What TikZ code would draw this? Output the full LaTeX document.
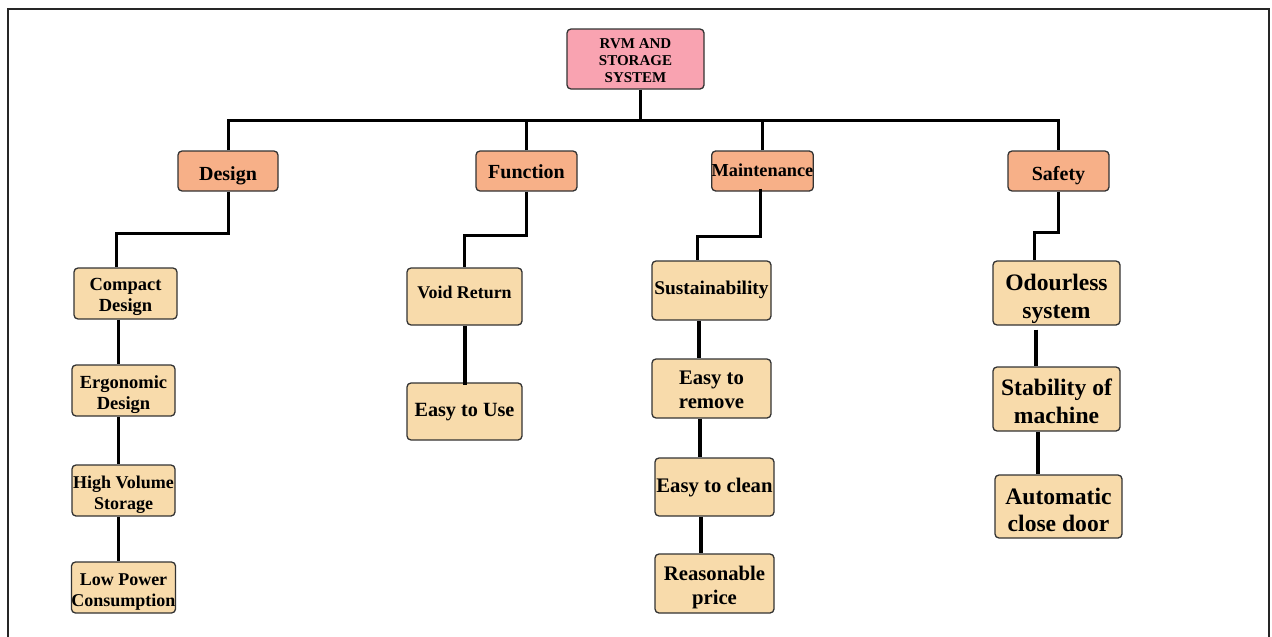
\documentclass[tikz,border=0pt]{standalone}
\usepackage{fontspec}
\setmainfont{Liberation Serif}
\definecolor{rootfill}{RGB}{249,163,177}
\definecolor{catfill}{RGB}{247,176,136}
\definecolor{itemfill}{RGB}{248,219,171}
\newcommand{\fs}[2]{\fontsize{#1}{#2}\selectfont\bfseries}
\newcommand{\dn}[2]{\raisebox{-#1}[\height][\depth]{\begin{tabular}{@{}c@{}}#2\end{tabular}}}
\tikzset{
  box/.style={draw=black!80, line width=1.3pt, rounded corners=4pt, inner sep=0pt, anchor=center},
  rootbox/.style={box, fill=rootfill, minimum width=137pt, minimum height=60pt},
  catbox/.style={box, fill=catfill, minimum width=101pt, minimum height=40pt},
  itembox/.style={box, fill=itemfill},
  link/.style={line width=3pt},
  thicklink/.style={line width=4.8pt},
  frame/.style={line width=2pt, black!85}
}
\begin{document}
\begin{tikzpicture}[x=1pt,y=-1pt]
\useasboundingbox (0,0) rectangle (1272,637);
% frame (open at bottom)
\draw[frame] (8,637) -- (8,8.5) -- (1269,8.5) -- (1269,637);

% root
\node[rootbox, font=\fs{15}{17}] (root) at (635.5,59) {\dn{3pt}{RVM AND\\STORAGE\\SYSTEM}};

% categories
\node[catbox, minimum width=100pt, font=\fs{20}{24}] (design) at (228,171) {\dn{4.5pt}{Design}};
\node[catbox, font=\fs{20}{24}] (function) at (526.5,171) {\dn{3pt}{Function}};
\node[catbox, font=\fs{18.3}{22}] (maint) at (762.5,171) {\dn{1pt}{Maintenance}};
\node[catbox, font=\fs{20}{24}] (safety) at (1058.5,171) {\dn{4.5pt}{Safety}};

% design items
\node[itembox, minimum width=103pt, minimum height=51pt, font=\fs{18.5}{21}] (compact) at (125.5,293.5) {\dn{3.5pt}{Compact\\Design}};
\node[itembox, minimum width=103pt, minimum height=51pt, font=\fs{18.5}{21}] (ergo) at (123.5,390.5) {\dn{4.5pt}{Ergonomic\\Design}};
\node[itembox, minimum width=103pt, minimum height=51pt, font=\fs{18}{21}] (hvs) at (123.5,490.5) {\dn{4pt}{High Volume\\Storage}};
\node[itembox, minimum width=103pt, minimum height=51pt, font=\fs{18}{21}] (lpc) at (123.5,587.5) {\dn{4pt}{Low Power\\Consumption}};

% function items
\node[itembox, minimum width=115pt, minimum height=57pt, font=\fs{17.9}{21}] (void) at (464.5,296.5) {\dn{-2.5pt}{Void Return}};
\node[itembox, minimum width=115pt, minimum height=57pt, font=\fs{20.2}{24}] (easyuse) at (464.5,411.5) {\dn{0pt}{Easy to Use}};

% maintenance items
\node[itembox, minimum width=119pt, minimum height=59pt, font=\fs{19.4}{23}] (sust) at (711.5,290.5) {\dn{-1pt}{Sustainability}};
\node[itembox, minimum width=119pt, minimum height=59pt, font=\fs{20.7}{24}] (remove) at (711.5,388.5) {\dn{3.5pt}{Easy to\\remove}};
\node[itembox, minimum width=119pt, minimum height=58pt, font=\fs{20.7}{24}] (clean) at (714.5,487) {\dn{1pt}{Easy to clean}};
\node[itembox, minimum width=119pt, minimum height=59pt, font=\fs{20.7}{24}] (price) at (714.5,583.5) {\dn{4pt}{Reasonable\\price}};

% safety items
\node[itembox, minimum width=127pt, minimum height=64pt, font=\fs{23.6}{28}] (odour) at (1056.5,293) {\dn{5.5pt}{Odourless\\system}};
\node[itembox, minimum width=127pt, minimum height=64pt, font=\fs{23.6}{28}] (stab) at (1056.5,399) {\dn{5pt}{Stability of\\machine}};
\node[itembox, minimum width=127pt, minimum height=63pt, font=\fs{23.6}{27}] (auto) at (1058.5,506.5) {\dn{6pt}{Automatic\\close door}};

% bus
\coordinate (bus) at (640,120);
\draw[link] ([xshift=4.5pt]root.south) -- (bus);
\draw[link] (design.north) |- (bus) -| (safety.north);
\draw[link] (function.north) -- (function.north |- bus);
\draw[link] (maint.north) -- (maint.north |- bus);

% branches
\coordinate (dB) at (116,233);
\coordinate (fB) at (464.5,235);
\coordinate (mB) at (697,236);
\coordinate (sB) at (1034,232);
\draw[link] (design.south) |- (dB) -- (dB |- compact.north);
\draw[link] (function.south) |- (fB) -- (fB |- void.north);
\draw[link] ([xshift=-2.5pt,yshift=3pt]maint.south) |- (mB) -- (mB |- sust.north);
\draw[link] (safety.south) |- (sB) -- (sB |- odour.north);

% design chain
\draw[link] ([xshift=-7pt]compact.south) -- ([xshift=-5pt]ergo.north);
\draw[link] ([xshift=-5.5pt]ergo.south) -- ([xshift=-5.5pt]hvs.north);
\draw[link] ([xshift=-5pt]hvs.south) -- ([xshift=-5pt]lpc.north);

% function chain
\draw[thicklink] ([xshift=0.5pt]void.south) -- ([xshift=0.5pt,yshift=-3pt]easyuse.north);

% maintenance chain
\draw[thicklink] ([xshift=-12.5pt]sust.south) -- ([xshift=-12.5pt]remove.north);
\draw[thicklink] ([xshift=-11.5pt]remove.south) -- ([xshift=-14.5pt]clean.north);
\draw[thicklink] ([xshift=-13.5pt]clean.south) -- ([xshift=-13.5pt]price.north);

% safety chain
\draw[thicklink] ([xshift=-20.5pt,yshift=-4pt]odour.south) -- ([xshift=-20.5pt]stab.north);
\draw[thicklink] ([xshift=-18.5pt]stab.south) -- ([xshift=-20.5pt]auto.north);
\end{tikzpicture}
\end{document}
